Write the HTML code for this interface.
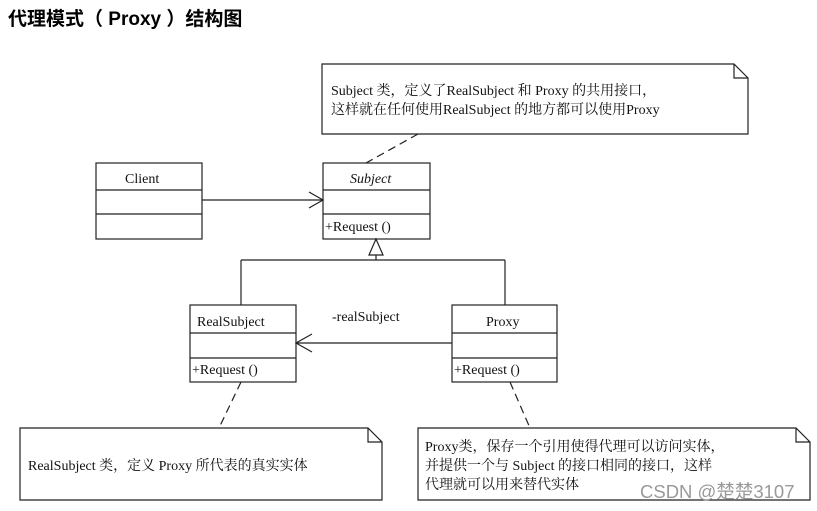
<!DOCTYPE html>
<html><head><meta charset="utf-8"><style>
body{margin:0;background:#fff;width:817px;height:511px;overflow:hidden}
svg{position:absolute;left:0;top:0}
.t{font-family:"Liberation Serif","Noto Serif CJK SC",serif;font-size:14px;fill:#111}
.m{font-family:"Liberation Serif","Noto Serif CJK SC",serif;font-size:14px;fill:#111}
</style></head><body>
<svg width="817" height="511" viewBox="0 0 817 511">
<text x="8" y="25" style="font-family:'Liberation Sans','Noto Sans CJK SC',sans-serif;font-size:19px;font-weight:bold" fill="#000">代理模式（ Proxy ）结构图</text>
<g fill="none" stroke="#222" stroke-width="1.2">
<path d="M322,64 H734 L748,78 V134 H322 Z M734,64 V78 H748"/>
<rect x="96" y="163" width="106" height="76"/><path d="M96,190H202M96,214H202"/>
<rect x="323" y="163" width="107" height="76"/><path d="M323,190H430M323,214H430"/>
<path d="M202,200H323M309,192L323,200L309,208"/>
<path d="M376,239L369,255H383Z"/>
<path d="M376,255V260M241,260H505M241,260V305M505,260V305"/>
<rect x="190" y="305" width="106" height="77"/><path d="M190,333H296M190,358H296"/>
<rect x="452" y="305" width="105" height="77"/><path d="M452,333H557M452,358H557"/>
<path d="M452,343H296M312,334L296,343L312,352"/>
<path stroke-dasharray="8,5" d="M418,134L366,163M241,382L219,428M510,382L530,428"/>
<path d="M20,428 H368 L382,442 V500 H20 Z M368,428 V442 H382"/>
<path d="M418,428 H796 L810,442 V500 H418 Z M796,428 V442 H810"/>
</g>
<text class="t" x="331" y="95">Subject 类，定义了RealSubject 和 Proxy 的共用接口，</text>
<text class="t" x="331" y="114">这样就在任何使用RealSubject 的地方都可以使用Proxy</text>
<text class="m" x="125" y="183">Client</text>
<text class="m" x="350" y="183" font-style="italic">Subject</text>
<text class="t" x="325" y="231">+Request ()</text>
<text class="m" x="197" y="326">RealSubject</text>
<text class="m" x="486" y="326">Proxy</text>
<text class="m" x="332" y="321">-realSubject</text>
<text class="t" x="192" y="374">+Request ()</text>
<text class="t" x="454" y="374">+Request ()</text>
<text class="t" x="28" y="470">RealSubject 类，定义 Proxy 所代表的真实实体</text>
<text class="t" x="425" y="451">Proxy类，保存一个引用使得代理可以访问实体，</text>
<text class="t" x="425" y="470">并提供一个与 Subject 的接口相同的接口，这样</text>
<text class="t" x="425" y="489">代理就可以用来替代实体</text>
<text x="640" y="498" style="font-family:'Liberation Sans','Noto Sans CJK SC',sans-serif;font-size:18.5px" fill="#999">CSDN @楚楚3107</text>
</svg>
</body></html>
